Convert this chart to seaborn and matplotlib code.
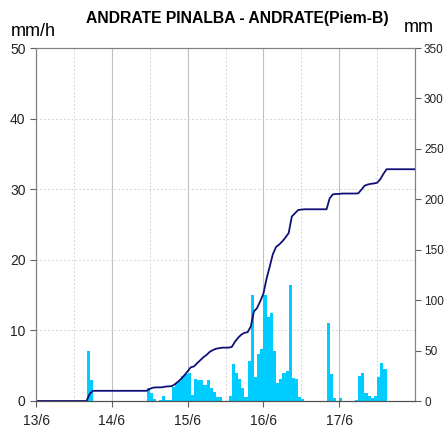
import numpy as np
import pandas as pd
import matplotlib
matplotlib.use("Agg")
import matplotlib.pyplot as plt
from matplotlib.ticker import MultipleLocator, FixedLocator
import seaborn as sns

# ---------------- data ----------------
# hourly rainfall intensity (mm/h), hour 0 = 13/6 00:00, 120 hours
rain = [0]*16 + [7.1, 3.0] + [0]*17 + [
    1.9, 1.2, 0.3, 0.0, 0.1, 0.7, 0.2, 0.2,            # h35-42
    2.0, 2.5, 2.9, 3.5, 3.8, 4.0, 0.9,                 # h43-49
    3.1, 3.0, 3.0, 2.3, 3.0, 1.8, 1.3, 0.6, 0.5, 0.0,  # h50-59
    0.0, 0.7, 5.2, 3.9, 3.1, 1.8, 0.6,                 # h60-66
    5.6, 15.0, 3.4, 6.7, 7.4, 15.0, 11.9, 12.4,        # h67-74
    7.1, 2.5, 3.1, 3.9, 4.3, 16.4, 3.3, 3.1, 0.5, 0.3, # h75-84
    0, 0, 0, 0, 0, 0, 0,                               # h85-91
    11.0, 3.8, 0.4, 0.0, 0.4, 0, 0, 0, 0,              # h92-100
    0.2, 3.5, 4.0, 1.2, 0.7, 0.4, 0.7, 3.4, 5.4, 4.6,  # h101-110
] + [0]*9

# cumulative rainfall (mm) at hourly instants t = 0..120
cum_hours = list(range(121))
cum = ([0.0]*17 + [7.1] + [10.1]*18 +
       [12.0, 13.2, 13.5, 13.5, 13.6, 14.3, 14.5, 14.7,
        16.7, 19.2, 22.1, 25.6, 29.4, 33.4, 34.3, 37.4, 40.4, 43.4,
        45.7, 48.7, 50.5, 51.8, 52.4, 52.9, 52.9, 52.9, 53.6, 58.8,
        62.7, 65.8, 67.6, 68.2, 73.8, 88.8, 92.2, 98.9, 106.3, 121.3,
        133.2, 145.6, 152.7, 155.2, 158.3, 162.2, 166.5, 182.9, 186.2,
        189.3, 189.8] + [190.1]*8 +
       [201.1, 204.9, 205.3, 205.3] + [205.7]*5 +
       [205.9, 209.4, 213.4, 214.6, 215.3, 215.7, 216.4, 219.8, 225.2] +
       [229.8]*10)

day_labels = ["13/6", "14/6", "15/6", "16/6", "17/6"]
title = "ANDRATE PINALBA - ANDRATE(Piem-B)"

# ---------------- figure ----------------
sns.set_style("white")
plt.rcParams['font.family'] = ['Liberation Sans', 'DejaVu Sans']

W, H = 445, 428
fig = plt.figure(figsize=(W/100, H/100), dpi=100)
ax = fig.add_axes([36/W, 27/H, 379/W, 353/H])

hours = np.arange(len(rain))
df = pd.DataFrame({"t": hours + 0.5, "rain": rain})
sns.barplot(data=df, x="t", y="rain", native_scale=True, width=1.0,
            color="#00CCFF", saturation=1, linewidth=0, errorbar=None, ax=ax)

ax.set_xlim(0, 120)
ax.set_ylim(0, 50)
ax.xaxis.set_major_locator(FixedLocator([0, 24, 48, 72, 96]))
ax.set_xticklabels(day_labels)
ax.xaxis.set_minor_locator(FixedLocator([12, 36, 60, 84, 108]))
ax.yaxis.set_major_locator(MultipleLocator(10))
ax.set_xlabel("")
ax.set_ylabel("")
ax.set_axisbelow(True)
ax.grid(True, which="major", axis="x", color="#c0c0c0", linewidth=0.8, linestyle="-")
ax.grid(True, which="minor", axis="x", color="#d4d4d4", linewidth=0.7, linestyle=(0, (2, 2)))
ax.grid(True, which="major", axis="y", color="#d4d4d4", linewidth=0.7, linestyle=(0, (2, 2)))
ax.tick_params(axis="x", which="major", direction="out", length=4.5, width=0.8,
               color="#606060", labelsize=10, pad=5, bottom=True, labelcolor="#222222")
ax.tick_params(axis="x", which="minor", length=0)
ax.tick_params(axis="y", direction="out", length=4.5, width=0.8, color="#606060",
               labelsize=10, pad=3, left=True, labelcolor="#222222")
for s in ax.spines.values():
    s.set_color("#808080")
    s.set_linewidth(0.8)
ax.spines["bottom"].set_color("#505050")

ax2 = ax.twinx()
sns.lineplot(x=cum_hours, y=cum, ax=ax2, color="#10107a", linewidth=1.3)
ax2.set_ylim(0, 350)
ax2.set_xlim(0, 120)
ax2.yaxis.set_major_locator(MultipleLocator(50))
ax2.set_ylabel("")
ax2.grid(False)
ax2.tick_params(axis="y", direction="out", length=4.5, width=0.8, color="#606060",
                labelsize=8.5, pad=2, right=True, labelcolor="#222222")
for s in ax2.spines.values():
    s.set_color("#808080")
    s.set_linewidth(0.8)
ax2.spines["bottom"].set_color("#505050")

fig.text(237/W, 1 - 18/H, title, ha="center", va="center",
         fontsize=11.3, fontweight="bold", color="black")
fig.text(11/W, 1 - 31/H, "mm/h", ha="left", va="center", fontsize=13, color="black")
fig.text(434/W, 1 - 27/H, "mm", ha="right", va="center", fontsize=13, color="black")

fig.savefig("out.png", dpi=100)
